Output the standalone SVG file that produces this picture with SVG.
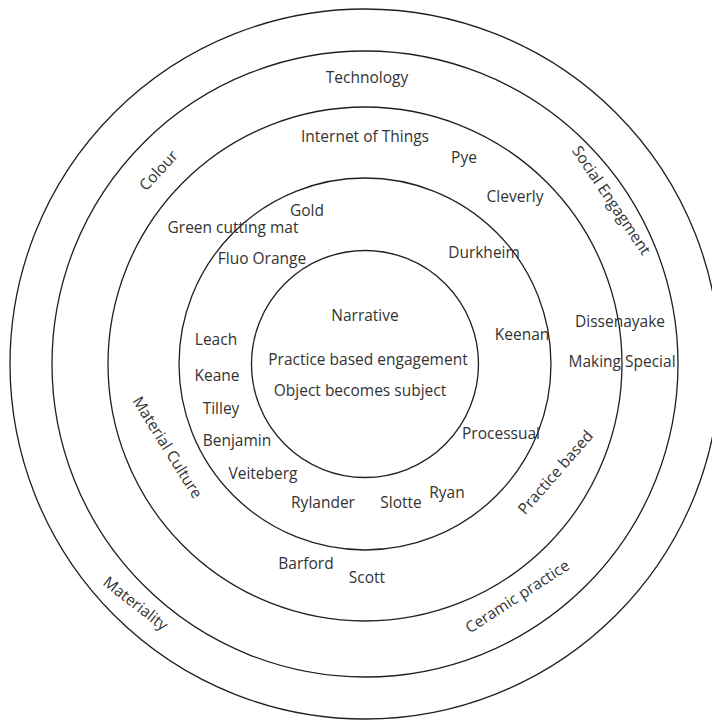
<svg xmlns="http://www.w3.org/2000/svg" width="712" height="722" viewBox="0 0 712 722">
<style>
.ring{fill:none;stroke:#231f20;stroke-width:1.3}
text{font-family:"Open Sans","Liberation Sans",sans-serif;font-size:15.5px;fill:#333;text-anchor:middle}
.r{dominant-baseline:central}
</style>
<rect width="712" height="722" fill="#fff"/>
<g id="rings">
<circle id="ring1" class="ring" cx="365" cy="364" r="355"/>
<circle id="ring2" class="ring" cx="365" cy="364" r="313"/>
<circle id="ring3" class="ring" cx="365" cy="364" r="257"/>
<circle id="ring4" class="ring" cx="365" cy="364" r="186"/>
<circle id="ring5" class="ring" cx="365" cy="364" r="113.5"/>
</g>
<g id="core">
<text x="365" y="321">Narrative</text>
<text x="368" y="365">Practice based engagement</text>
<text x="360" y="396">Object becomes subject</text>
</g>
<g id="inner-ring">
<text x="307" y="216">Gold</text>
<text x="233" y="233">Green cutting mat</text>
<text x="262" y="264">Fluo Orange</text>
<text x="484" y="258">Durkheim</text>
<text x="522" y="340">Keenan</text>
<text x="216" y="345">Leach</text>
<text x="217" y="381">Keane</text>
<text x="221" y="414">Tilley</text>
<text x="237" y="446">Benjamin</text>
<text x="263" y="479">Veiteberg</text>
<text x="501" y="439">Processual</text>
<text x="323" y="508">Rylander</text>
<text x="401" y="508">Slotte</text>
<text x="447" y="498">Ryan</text>
</g>
<g id="middle-ring">
<text x="365" y="142">Internet of Things</text>
<text x="464" y="163">Pye</text>
<text x="515" y="202">Cleverly</text>
<text x="620" y="327">Dissenayake</text>
<text x="622" y="367">Making Special</text>
<text x="306" y="569">Barford</text>
<text x="367" y="583">Scott</text>
<text class="r" transform="translate(168,447) rotate(58)">Material Culture</text>
<text class="r" transform="translate(555,472) rotate(-49)">Practice based</text>
</g>
<g id="outer-ring">
<text x="367" y="83">Technology</text>
<text class="r" transform="translate(158,170) rotate(-47)">Colour</text>
<text class="r" transform="translate(612,200) rotate(56)">Social Engagment</text>
<text class="r" transform="translate(517,596) rotate(-33)">Ceramic practice</text>
</g>
<g id="outermost-ring">
<text class="r" transform="translate(136,603) rotate(38)">Materiality</text>
</g>
</svg>
